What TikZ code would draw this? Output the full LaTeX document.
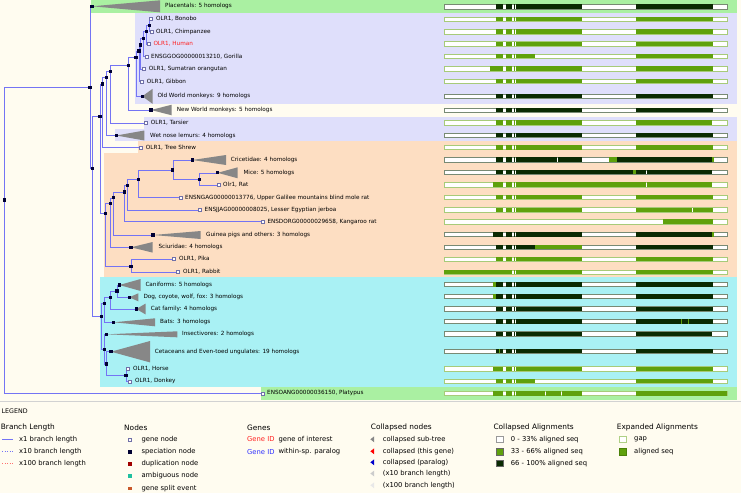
\documentclass[tikz,border=0pt]{standalone}
\usepackage{fontspec}
\setmainfont{DejaVu Sans}
\definecolor{bg}{HTML}{FFFCF0}
\definecolor{lav}{HTML}{DFDFFB}
\definecolor{peach}{HTML}{FDDEC2}
\definecolor{cyanb}{HTML}{A9F1F4}
\definecolor{grb}{HTML}{AAF0A2}
\definecolor{tb}{HTML}{7474F4}
\definecolor{navy}{HTML}{000033}
\definecolor{dk}{HTML}{0A2A02}
\definecolor{gn}{HTML}{5FA10C}
\definecolor{trig}{HTML}{878787}
\definecolor{leafb}{HTML}{7070A8}
\definecolor{hred}{HTML}{FF2020}
\definecolor{pblue}{HTML}{3030FF}
\definecolor{dupred}{HTML}{A00000}
\definecolor{ambig}{HTML}{20C0A0}
\definecolor{splitc}{HTML}{C8582A}
\definecolor{pinkl}{HTML}{FF7070}
\tikzset{
 br/.style={draw=tb, line width=0.5pt},
 sp/.style={rectangle, fill=navy, minimum size=3.3pt, inner sep=0pt},
 lf/.style={rectangle, draw=leafb, fill=white, minimum size=2.8pt, inner sep=0pt, line width=0.4pt},
 lb/.style={anchor=west, inner sep=0pt, font=\fontsize{5.7}{6.5}\selectfont},
 tri/.style={fill=trig},
 lgh/.style={anchor=west, inner sep=0pt, font=\fontsize{7.4}{8}\selectfont},
 lgt/.style={anchor=west, inner sep=0pt, font=\fontsize{6.8}{8}\selectfont},
}
\newcommand\albar[3]{%
  \filldraw[fill=white,draw=#2!55,line width=0.4pt] (444,#1-2.2) rectangle (727,#1+2.2);
  \foreach \a/\b in {#3}{\fill[#2] (\a,#1-2.2) rectangle (\b,#1+2.2);}}
\newcommand\altick[4]{\fill[#4] (#2,#1-2.2) rectangle (#3,#1+2.2);}
\begin{document}
\begin{tikzpicture}[x=1pt,y=-1pt]
\fill[bg] (0,0) rectangle (741,493);
\useasboundingbox (0,0) rectangle (741,493);
% bands
\fill[grb] (91,0) rectangle (737,13.3);
\fill[lav] (135,13.3) rectangle (737,104);
\fill[lav] (144,117) rectangle (737,129);
\fill[lav] (114.5,129) rectangle (737,141);
\fill[peach] (138,141) rectangle (737,153.3);
\fill[peach] (104,153.3) rectangle (737,277);
\fill[cyanb] (100,277) rectangle (737,387);
\fill[grb] (261,387) rectangle (737,399.5);
\draw[gray!35, line width=1.5pt] (0,401.5) -- (741,401.5);
% coordinates
\coordinate (root) at (4.7,200);
\coordinate (A) at (90,87.3);
\coordinate (plac) at (92,6.3);
\coordinate (B) at (92.3,168.3);
\coordinate (C) at (100,116.7);
\coordinate (N9) at (102.3,84);
\coordinate (N8) at (106.7,77.3);
\coordinate (N7) at (110.7,71.7);
\coordinate (N6) at (128.3,65.5);
\coordinate (N5) at (136,57.3);
\coordinate (N4) at (139,51);
\coordinate (N3) at (140.7,45);
\coordinate (N2) at (143.7,38.3);
\coordinate (N1) at (146.3,31.7);
\coordinate (Pan) at (149.3,25.3);
\coordinate (owm) at (142.3,96.3);
\coordinate (nwm) at (151,110);
\coordinate (lem) at (116.3,135.5);
\coordinate (bon) at (150.7,19);
\coordinate (chi) at (151.7,31.5);
\coordinate (hum) at (149,44);
\coordinate (gor) at (146.3,56.5);
\coordinate (sum) at (144,69);
\coordinate (gib) at (142,81.3);
\coordinate (tar) at (146,123);
\coordinate (tsh) at (140.7,147.3);
\coordinate (Gl) at (105.7,213.7);
\coordinate (G1) at (110.7,203.5);
\coordinate (G2) at (113.3,197.8);
\coordinate (G3) at (124.5,192);
\coordinate (G4) at (127.2,185.2);
\coordinate (G5) at (138.5,179.3);
\coordinate (G6) at (172.8,170);
\coordinate (G7) at (199.2,179.3);
\coordinate (cri) at (192.3,160);
\coordinate (mic) at (217.7,172.8);
\coordinate (rat) at (219,185);
\coordinate (nga) at (180.7,197.5);
\coordinate (jja) at (200,210);
\coordinate (dor) at (263,221.7);
\coordinate (gui) at (153,235);
\coordinate (sci) at (131,247.3);
\coordinate (Lago) at (131,266.5);
\coordinate (pik) at (174,259);
\coordinate (rab) at (178,272);
\coordinate (L) at (101.7,316.7);
\coordinate (L1) at (104.7,303.3);
\coordinate (Carn) at (110.3,297.3);
\coordinate (Can) at (117,291);
\coordinate (canf) at (119.3,285);
\coordinate (dog) at (129.3,297.3);
\coordinate (cat) at (136.3,309);
\coordinate (bat) at (113.7,322.3);
\coordinate (Ly) at (104.3,349.3);
\coordinate (ins) at (106.7,334.3);
\coordinate (Ly2) at (106.7,364);
\coordinate (cet) at (111,351.7);
\coordinate (Eq) at (126,375.7);
\coordinate (hor) at (128,368.7);
\coordinate (don) at (130,381.3);
\coordinate (pla) at (262.3,393.3);
% edges
\draw[br] (root) |- (A); \draw[br] (root) |- (pla);
\draw[br] (A) |- (plac); \draw[br] (A) |- (B);
\draw[br] (B) |- (C); \draw[br] (B) |- (L);
\draw[br] (C) |- (N9); \draw[br] (C) |- (Gl);
\draw[br] (N9) |- (N8); \draw[br] (N9) |- (tsh);
\draw[br] (N8) |- (N7); \draw[br] (N8) |- (lem);
\draw[br] (N7) |- (N6); \draw[br] (N7) |- (tar);
\draw[br] (N6) |- (N5); \draw[br] (N6) |- (nwm);
\draw[br] (N5) |- (N4); \draw[br] (N5) |- (owm);
\draw[br] (N4) |- (N3); \draw[br] (N4) |- (gib);
\draw[br] (N3) |- (N2); \draw[br] (N3) |- (sum);
\draw[br] (N2) |- (N1); \draw[br] (N2) |- (gor);
\draw[br] (N1) |- (Pan); \draw[br] (N1) |- (hum);
\draw[br] (Pan) |- (bon); \draw[br] (Pan) |- (chi);
\draw[br] (Gl) |- (G1); \draw[br] (Gl) |- (Lago);
\draw[br] (G1) |- (G2); \draw[br] (G1) |- (sci);
\draw[br] (G2) |- (G3); \draw[br] (G2) |- (gui);
\draw[br] (G3) |- (G4); \draw[br] (G3) |- (dor);
\draw[br] (G4) |- (G5); \draw[br] (G4) |- (jja);
\draw[br] (G5) |- (G6); \draw[br] (G5) |- (nga);
\draw[br] (G6) |- (cri); \draw[br] (G6) |- (G7);
\draw[br] (G7) |- (mic); \draw[br] (G7) |- (rat);
\draw[br] (Lago) |- (pik); \draw[br] (Lago) |- (rab);
\draw[br] (L) |- (L1); \draw[br] (L) |- (Ly);
\draw[br] (L1) |- (Carn); \draw[br] (L1) |- (bat);
\draw[br] (Carn) |- (Can); \draw[br] (Carn) |- (cat);
\draw[br] (Can) |- (canf); \draw[br] (Can) |- (dog);
\draw[br] (Ly) |- (ins); \draw[br] (Ly) |- (Ly2);
\draw[br] (Ly2) |- (cet); \draw[br] (Ly2) |- (Eq);
\draw[br] (Eq) |- (hor); \draw[br] (Eq) |- (don);
% collapsed triangles
\fill[tri] (plac) -- ++(68,-6) -- ++(0,12) -- cycle;
\fill[tri] (owm) -- ++(10.3,-7.5) -- ++(0,15) -- cycle;
\fill[tri] (nwm) -- ++(20.7,-5.3) -- ++(0,10.6) -- cycle;
\fill[tri] (lem) -- ++(28,-5) -- ++(0,10) -- cycle;
\fill[tri] (cri) -- ++(33.7,-5) -- ++(0,10) -- cycle;
\fill[tri] (mic) -- ++(20,-5.5) -- ++(0,11) -- cycle;
\fill[tri] (gui) -- ++(47.7,-4) -- ++(0,8) -- cycle;
\fill[tri] (sci) -- ++(21.7,-5.3) -- ++(0,10.6) -- cycle;
\fill[tri] (canf) -- ++(21.4,-6) -- ++(0,12) -- cycle;
\fill[tri] (dog) -- ++(9,-4) -- ++(0,8) -- cycle;
\fill[tri] (cat) -- ++(9.4,-5.5) -- ++(0,11) -- cycle;
\fill[tri] (bat) -- ++(41.3,-4) -- ++(0,8) -- cycle;
\fill[tri] (ins) -- ++(70.6,-3) -- ++(0,6) -- cycle;
\fill[tri] (cet) -- ++(39,-10.7) -- ++(0,21.4) -- cycle;
% speciation node markers
\foreach \n in {root,A,plac,B,C,N9,N8,N7,N6,N5,N4,N3,N2,N1,Pan,owm,nwm,lem,Gl,G1,G2,G3,G4,G5,G6,G7,cri,mic,gui,sci,Lago,L,L1,Carn,Can,canf,dog,cat,bat,Ly,ins,Ly2,cet,Eq}
  \node[sp] (m\n) at (\n) {};
% leaf markers
\foreach \n in {bon,chi,hum,gor,sum,gib,tar,tsh,rat,nga,jja,dor,pik,rab,hor,don,pla}
  \node[lf] (m\n) at (\n) {};
% labels
\node[lb] (tplac) at (165,6.3) {Placentals: 5 homologs};
\node[lb] (tbon) at (156,19) {OLR1, Bonobo};
\node[lb] (tchi) at (156,31.5) {OLR1, Chimpanzee};
\node[lb, text=hred] (thum) at (153.3,44) {OLR1, Human};
\node[lb] (tgor) at (151,56.5) {ENSGGOG00000013210, Gorilla};
\node[lb] (tsum) at (148.7,69) {OLR1, Sumatran orangutan};
\node[lb] (tgib) at (146.7,81.3) {OLR1, Gibbon};
\node[lb] (towm) at (157.3,96.3) {Old World monkeys: 9 homologs};
\node[lb] (tnwm) at (176.7,110) {New World monkeys: 5 homologs};
\node[lb] (ttar) at (150.7,123) {OLR1, Tarsier};
\node[lb] (tlem) at (150,135.5) {Wet nose lemurs: 4 homologs};
\node[lb] (ttsh) at (145.7,147.3) {OLR1, Tree Shrew};
\node[lb] (tcri) at (230.7,160) {Cricetidae: 4 homologs};
\node[lb] (tmic) at (243.3,172.8) {Mice: 5 homologs};
\node[lb] (trat) at (223,185) {Olr1, Rat};
\node[lb] (tnga) at (185,197.5) {ENSNGAG00000013776, Upper Galilee mountains blind mole rat};
\node[lb] (tjja) at (204.5,210) {ENSJJAG00000008025, Lesser Egyptian jerboa};
\node[lb] (tdor) at (267.3,221.7) {ENSDORG00000029658, Kangaroo rat};
\node[lb] (tgui) at (206,235) {Guinea pigs and others: 3 homologs};
\node[lb] (tsci) at (158.3,247.3) {Sciuridae: 4 homologs};
\node[lb] (tpik) at (179,259) {OLR1, Pika};
\node[lb] (trab) at (183,272) {OLR1, Rabbit};
\node[lb] (tcanf) at (145.3,285) {Caniforms: 5 homologs};
\node[lb] (tdog) at (143.3,297.3) {Dog, coyote, wolf, fox: 3 homologs};
\node[lb] (tcat) at (150.7,309) {Cat family: 4 homologs};
\node[lb] (tbat) at (160,322.3) {Bats: 3 homologs};
\node[lb] (tins) at (182,334.3) {Insectivores: 2 homologs};
\node[lb] (tcet) at (154.7,351.7) {Cetaceans and Even-toed ungulates: 19 homologs};
\node[lb] (thor) at (133,368.7) {OLR1, Horse};
\node[lb] (tdon) at (135,381.3) {OLR1, Donkey};
\node[lb] (tpla) at (267,393.3) {ENSOANG00000036150, Platypus};
% alignments
\albar{6.5}{dk}{496/503,506/512,513.5/515,516/582,636/713}
\albar{19}{gn}{496/503,506/512,513.5/515,516/582,636/713}
\albar{31.5}{gn}{496/503,506/512,513.5/515,516/582,636/713}
\albar{43.8}{gn}{496/503,506/512,513.5/515,516/582,636/713}
\albar{56}{gn}{496/503,506/512,513.5/515,516/535,636/713}
\albar{68.5}{gn}{489.5/503,506/512,513.5/515,516/582,636/713}
\albar{81}{gn}{496/503,506/512,513.5/515,516/582,636/713}
\albar{96}{dk}{496/503,506/512,513.5/515,516/582,636/713}
\albar{110}{dk}{496/503,506/512,513.5/515,516/582,636/713}
\albar{122.5}{gn}{496/503,506/512,513.5/515,516/582,636/712}
\albar{135}{dk}{496/503,506/512,513.5/515,516/582,636/713}
\albar{147.3}{gn}{496/503,506/512,513.5/515,516/582,636/713}
\albar{159.5}{dk}{496/503,506/512,513.5/515,516/556.5,557.5/582,617/712}
\altick{159.5}{609}{617}{gn}\altick{159.5}{712}{713.5}{gn}
\albar{172}{dk}{496/503,506/512,513.5/515,516/646,647/712}
\altick{172}{633}{635.5}{gn}
\albar{184.5}{gn}{493.3/503,506/512,513.5/515,516/646,647/712}
\albar{197}{gn}{496/503,506/512,513.5/515,516/582,636/713}
\albar{209.7}{gn}{496/503,506/512,513.5/515,516/582,636/692,693/713}
\albar{221.5}{gn}{663.3/713}
\albar{234.3}{dk}{493.3/503,506/512,513.5/515,516/582,636/712}
\altick{234.3}{712}{713.5}{gn}
\albar{247}{dk}{496/503,506/512,513.5/515,516/535,636/713}
\altick{247}{535}{582}{gn}
\albar{259}{gn}{496/503,506/512,513.5/515,516/582,636/713}
\albar{272}{gn}{444/512,513.5/515,516/582,636/713}
\albar{284.3}{dk}{496/503,506/512,513.5/515,516/582,636/713}
\altick{284.3}{493.3}{496}{gn}
\albar{296.3}{dk}{496/503,506/512,513.5/515,516/582,636/713}
\altick{296.3}{493.3}{496}{gn}
\albar{308.7}{dk}{496/503,506/512,513.5/515,516/582,636/713}
\albar{321.3}{dk}{496/503,506/512,513.5/515,516/582,636/713}
\altick{321.3}{681}{682}{gn}\altick{321.3}{688}{689}{gn}
\albar{333.7}{dk}{496/503,506/512,513.5/515,516/582,636/712}
\albar{351}{dk}{496/503,506/512,513.5/515,516/582,636/713}
\altick{351}{498.5}{499.5}{gn}
\albar{368.7}{gn}{493.3/503,506/512,513.5/515,516/582,636/713}
\albar{381}{gn}{496/503,506/512,513.5/515,516/535,636/713}
\albar{393.3}{gn}{493.3/503,506/512,513.5/515,516/545,546/561,562/582,636/727}
% legend
\node[anchor=west, inner sep=0pt, font=\fontsize{6.3}{7}\selectfont] (lgd) at (1.5,410.7) {LEGEND};
\node[lgh] (hbl) at (0.7,427.3) {Branch Length};
\coordinate (b1a) at (2,439.3); \coordinate (b1b) at (13,439.3);
\coordinate (b2a) at (2,451.7); \coordinate (b2b) at (13,451.7);
\coordinate (b3a) at (2,463.7); \coordinate (b3b) at (13,463.7);
\draw[tb, line width=0.5pt] (b1a) -- (b1b);
\draw[tb, line width=0.5pt, dotted] (b2a) -- (b2b);
\draw[pinkl, line width=0.5pt, dotted] (b3a) -- (b3b);
\node[lgt] (tb1) at (19,439.3) {x1 branch length};
\node[lgt] (tb2) at (19,451.7) {x10 branch length};
\node[lgt] (tb3) at (19,463.7) {x100 branch length};
\node[lgh] (hnd) at (124,427.3) {Nodes};
\node[lf] (n1) at (130,439.3) {};
\node[sp] (n2) at (130,452) {};
\node[rectangle, fill=dupred, minimum size=3.3pt, inner sep=0pt] (n3) at (130,464) {};
\node[rectangle, fill=ambig, minimum size=3.3pt, inner sep=0pt] (n4) at (130,476) {};
\node[rectangle, fill=splitc, minimum size=3.3pt, inner sep=0pt] (n5) at (130,488.3) {};
\node[lgt] (tn1) at (141.3,439.3) {gene node};
\node[lgt] (tn2) at (141.3,452) {speciation node};
\node[lgt] (tn3) at (141.3,464) {duplication node};
\node[lgt] (tn4) at (141.3,476) {ambiguous node};
\node[lgt] (tn5) at (141.3,488.3) {gene split event};
\node[lgh] (hgn) at (247,427.3) {Genes};
\node[lgt, text=hred] (tg1) at (247,439.3) {Gene ID};
\node[lgt] (tg1b) at (278.3,439.3) {gene of interest};
\node[lgt, text=pblue] (tg2) at (247,451.7) {Gene ID};
\node[lgt] (tg2b) at (278.3,451.7) {within-sp. paralog};
\node[lgh] (hcn) at (370.7,427.3) {Collapsed nodes};
\coordinate (c1) at (370.4,439.3);
\coordinate (c2) at (370.4,451.3);
\coordinate (c3) at (370.4,462.3);
\coordinate (c4) at (370.4,473.5);
\coordinate (c5) at (370.4,485.3);
\fill[trig] (c1) -- ++(3.8,-3) -- ++(0,6) -- cycle;
\fill[red] (c2) -- ++(3.8,-3) -- ++(0,6) -- cycle;
\fill[blue!80!black] (c3) -- ++(3.8,-3) -- ++(0,6) -- cycle;
\fill[gray!40] (c4) -- ++(3.8,-3) -- ++(0,6) -- cycle;
\fill[gray!18] (c5) -- ++(3.8,-3) -- ++(0,6) -- cycle;
\node[lgt] (tc1) at (382.7,439.3) {collapsed sub-tree};
\node[lgt] (tc2) at (382.7,451.3) {collapsed (this gene)};
\node[lgt] (tc3) at (382.7,462.3) {collapsed (paralog)};
\node[lgt] (tc4) at (382.7,473.5) {(x10 branch length)};
\node[lgt] (tc5) at (382.7,485.3) {(x100 branch length)};
\node[lgh] (hca) at (493.3,427.3) {Collapsed Alignments};
\filldraw[fill=white, draw=gray!80, line width=0.5pt] (496.7,436) rectangle (503.3,442.6);
\filldraw[fill=gn, draw=gray!80!black, line width=0.5pt] (496.7,448.4) rectangle (503.3,455);
\filldraw[fill=dk, draw=gray!80!black, line width=0.5pt] (496.7,460) rectangle (503.3,466.6);
\node[lgt] (ta1) at (510.7,439.3) {0 - 33\% aligned seq};
\node[lgt] (ta2) at (510.7,451.7) {33 - 66\% aligned seq};
\node[lgt] (ta3) at (510.7,463.3) {66 - 100\% aligned seq};
\node[lgh] (hea) at (616.7,427.3) {Expanded Alignments};
\filldraw[fill=white, draw=gn!50, line width=0.5pt] (619.3,436) rectangle (626,442.6);
\filldraw[fill=gn, draw=gn!80!black, line width=0.5pt] (619.3,448.4) rectangle (626,455);
\node[lgt] (te1) at (634,439.3) {gap};
\node[lgt] (te2) at (634,451.7) {aligned seq};
\end{tikzpicture}
\end{document}
